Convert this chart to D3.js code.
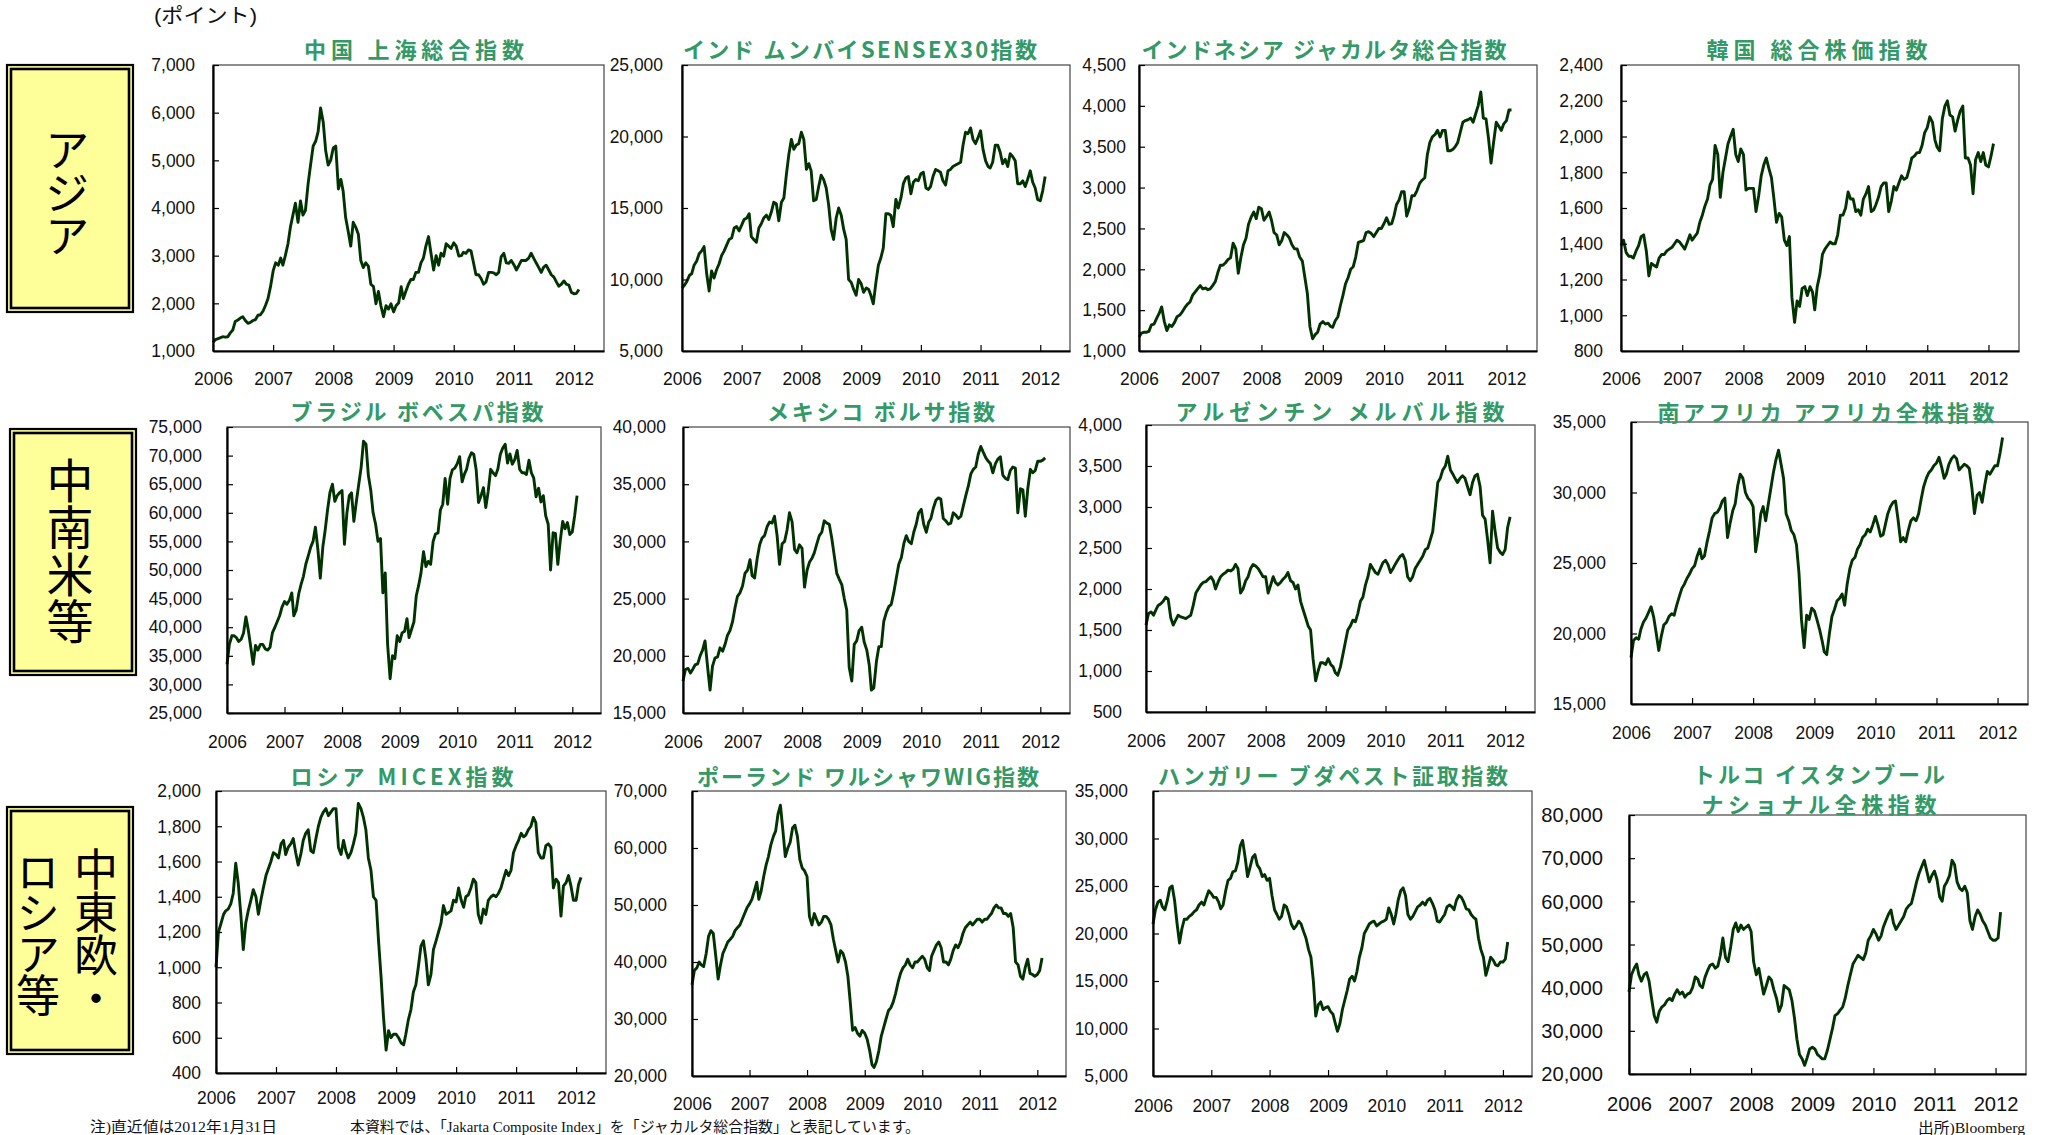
<!DOCTYPE html>
<html lang="ja">
<head>
<meta charset="utf-8">
<script src="https://cdn.jsdelivr.net/npm/d3@7"></script>
<style>
  html, body { margin: 0; padding: 0; background: #fff; }
  svg { display: block; }
</style>
</head>
<body>
<svg id="chart" width="2045" height="1135"></svg>
<script>
// Emerging-market equity indices, semi-monthly closes (1st and 16th of each month),
// Jan 2006 – Jan 31 2012. Each year row holds 24 values; 2012 holds Jan 1, Jan 16, Jan 31.
const yearLabels = ["2006", "2007", "2008", "2009", "2010", "2011", "2012"];

const shanghai = [
  1180,1240,1260,1280,1300,1290,1300,1380,1440,1620,1650,1690,1720,1640,1580,1600,1640,1660,1750,1760,1840,1960,2100,2350,
  2680,2850,2800,2950,2800,3000,3250,3600,3850,4100,3700,4150,3850,3950,4500,4900,5300,5400,5600,6100,5800,5200,4900,5000,
  5260,5300,4400,4600,4350,3800,3500,3200,3700,3600,3450,2900,2750,2850,2780,2400,2350,1990,2250,1950,1720,1950,1880,1990,
  1820,1950,2010,2350,2100,2250,2400,2500,2500,2650,2650,2850,2950,3200,3400,3050,2700,3000,2800,3050,2990,3250,3200,3150,
  3270,3200,2990,3000,3070,3050,3120,3100,2850,2600,2600,2520,2400,2450,2650,2650,2640,2600,2650,2980,3050,2850,2840,2900,
  2810,2700,2800,2900,2900,2900,2950,3050,2950,2850,2750,2650,2760,2800,2700,2600,2550,2450,2360,2400,2470,2400,2380,2230,
  2200,2210,2290
];
const sensex = [
  9400,9600,9900,10300,10400,11000,11300,11800,12000,12300,10400,9200,10600,10100,10700,11100,11700,12000,12400,12800,12900,13600,13700,13400,
  13800,14200,14300,14600,13000,12800,12600,13600,13900,14300,14500,14200,14700,15400,15300,14100,15400,15700,17300,18700,19800,19100,19400,19500,
  20300,19800,17700,18100,17600,15500,15600,16500,17300,17000,16400,15200,13500,12800,14300,15000,14500,13500,12800,10000,9800,9300,8900,10000,
  9700,9100,9400,9300,8900,8300,9800,11000,11500,12200,14600,14600,14500,13700,15600,15000,15700,16700,17100,17200,16000,16800,17000,16900,
  17400,17500,16400,16300,16500,17200,17700,17600,17500,16900,16600,17600,17700,17900,18000,18100,18200,19400,20300,20200,20600,19800,19500,19900,
  20400,19100,18300,17900,17800,18200,19400,19400,18900,18100,18400,17900,18800,18600,18300,16700,16700,16900,16500,17000,17600,16800,16400,15600,
  15500,16200,17200
];
const jakarta = [
  1170,1220,1230,1230,1240,1320,1330,1400,1460,1540,1360,1250,1320,1300,1350,1420,1440,1480,1530,1570,1600,1680,1720,1760,
  1800,1760,1770,1750,1760,1800,1850,1960,2050,2050,2080,2120,2140,2320,2250,1950,2150,2300,2380,2550,2640,2700,2620,2760,
  2740,2600,2650,2700,2600,2450,2420,2300,2350,2450,2420,2380,2300,2250,2250,2150,2100,1900,1700,1300,1150,1200,1230,1330,
  1360,1330,1340,1300,1290,1370,1420,1560,1680,1820,1900,2000,2030,2150,2330,2340,2350,2450,2460,2440,2400,2450,2500,2500,
  2560,2630,2550,2560,2650,2790,2850,2950,2950,2650,2750,2900,2900,2960,3050,3090,3120,3400,3550,3620,3650,3700,3620,3700,
  3700,3450,3450,3470,3500,3550,3680,3800,3820,3830,3850,3800,3900,4000,4170,3850,3840,3600,3300,3550,3800,3750,3700,3780,
  3820,3950,3950
];
const kospi = [
  1390,1420,1350,1330,1330,1320,1360,1390,1440,1450,1360,1220,1290,1280,1270,1320,1340,1340,1360,1370,1380,1400,1420,1410,
  1390,1370,1410,1450,1420,1440,1460,1520,1560,1610,1650,1730,1760,1950,1900,1660,1800,1880,1960,2000,2040,1900,1860,1930,
  1900,1700,1710,1710,1710,1580,1670,1780,1840,1880,1820,1770,1650,1520,1570,1550,1420,1390,1440,1100,960,1080,1050,1150,
  1160,1110,1160,1130,1030,1160,1230,1340,1370,1390,1410,1400,1400,1450,1560,1560,1600,1690,1650,1650,1580,1590,1560,1650,
  1680,1720,1580,1590,1620,1660,1720,1740,1740,1580,1640,1720,1700,1740,1780,1760,1770,1820,1880,1890,1910,1910,1950,2020,
  2050,2110,2080,1980,1940,1920,2100,2170,2200,2120,2110,2030,2090,2140,2170,1880,1880,1840,1680,1870,1910,1860,1910,1840,
  1830,1890,1960
];
const bovespa = [
  33500,37000,38500,38500,38200,37500,37900,39000,41800,39500,36500,33500,36800,36000,37000,37000,36200,36000,36500,39000,40000,41000,42000,43500,
  44500,44000,44700,46000,42000,43000,45800,47500,48900,51000,52500,54000,55000,57500,53500,48600,54000,57000,60500,63500,65000,62000,63000,63500,
  63900,54500,60000,63000,63500,58500,62000,65000,67900,72500,72000,66500,64000,60000,58000,55000,55500,46000,49500,37000,31000,35000,34500,38500,
  37500,39000,39300,41500,38200,39500,40900,45500,47300,49500,53200,50600,51500,51000,55000,56300,56500,60500,61500,66000,61500,66000,67500,67800,
  68600,69800,65400,66800,67600,69500,70500,70200,67500,61800,63000,64400,60900,63700,67600,67000,66500,67700,70200,71300,72000,68700,70300,68500,
  69300,70900,67600,67000,67000,66700,69200,67000,66100,62800,64300,61900,63000,59500,58000,50000,56500,56400,51000,55000,58500,57200,58300,56200,
  56700,59500,63000
];
const bolsa = [
  17800,18800,18900,18500,18800,19200,19300,20000,20500,21300,19000,17000,19100,19800,19900,20700,20400,21000,21800,22200,23000,24200,25200,25500,
  26100,27200,27500,28400,27000,26800,28500,29700,30300,30500,31300,31700,31600,32200,30500,28000,29800,30000,31000,32500,31700,29300,29000,29700,
  29400,26000,27500,28200,28500,29000,29800,30500,30800,31800,31600,31500,30300,28800,27200,26700,26200,25000,24000,19000,17800,21000,21300,22200,
  22500,21200,20500,19200,17000,17200,19500,20800,20800,23000,23800,24300,24500,25500,26800,28000,28600,29800,30500,30000,29800,30800,31500,32500,
  32800,31500,30800,31700,32000,32900,33600,33800,33700,32000,31800,31500,31600,32500,32300,32000,32200,33100,34000,34800,35900,36300,36500,37600,
  38300,37800,37300,37000,36800,36000,36800,37200,37400,35800,35500,35400,36200,36500,36400,32500,34600,34500,32200,34600,36300,36000,36200,37000,
  37000,37100,37300
];
const merval = [
  1560,1700,1720,1680,1740,1800,1820,1850,1900,1880,1650,1560,1620,1680,1660,1650,1640,1660,1680,1800,1950,2000,2050,2080,
  2090,2120,2150,2100,2000,2080,2150,2180,2200,2230,2220,2240,2300,2250,1950,2000,2100,2150,2250,2300,2280,2250,2200,2150,
  2150,1950,2050,2150,2080,2050,2080,2120,2150,2200,2100,2080,2000,2050,1850,1750,1650,1550,1500,1150,880,1000,1100,1100,
  1080,1150,1080,1050,980,950,1050,1200,1350,1500,1550,1620,1600,1700,1850,1900,2050,2150,2300,2250,2200,2180,2250,2320,
  2350,2300,2200,2250,2300,2350,2400,2420,2350,2150,2100,2150,2250,2300,2350,2400,2480,2500,2600,2700,3000,3300,3350,3450,
  3500,3620,3450,3400,3350,3300,3350,3380,3350,3250,3150,3300,3380,3400,3250,2900,2850,2600,2320,2950,2700,2500,2450,2420,
  2480,2750,2880
];
const jseAllShare = [
  18300,19500,19700,19600,20300,20800,21100,21500,21900,21200,20000,18800,19800,20600,20800,21200,21400,21300,22000,22600,23200,23500,23900,24200,
  24600,24800,25500,26000,25300,25500,26500,27300,28200,28500,28600,28900,29400,29600,26800,27800,28700,29200,30500,31300,31000,30000,29600,29400,
  29000,25800,27000,28500,29000,28000,29200,30300,31400,32300,33000,32000,31000,28500,28000,27300,27000,26300,24300,21000,19000,21300,21000,21800,
  21600,21000,20300,19500,18700,18500,20000,21200,21700,22300,22500,22800,22000,23500,24600,25200,25400,26000,26300,26800,27000,27400,27200,27700,
  28300,27700,26900,27000,27700,28500,29000,29300,29400,28100,26500,26800,26500,27300,28000,28200,28000,28500,29500,30400,31000,31400,31600,31900,
  32100,32500,31800,31000,31300,32000,32400,32600,32400,31600,31800,32000,31900,31700,30300,28500,29800,30000,29300,30500,31500,31300,31600,31900,
  31900,32800,33900
];
const micex = [
  1000,1200,1250,1300,1320,1330,1360,1420,1590,1480,1300,1100,1250,1320,1380,1440,1400,1300,1380,1450,1520,1560,1600,1650,
  1640,1620,1700,1720,1640,1680,1700,1730,1650,1580,1640,1720,1760,1780,1660,1650,1730,1800,1850,1880,1900,1860,1880,1900,
  1900,1680,1640,1720,1660,1620,1650,1700,1760,1930,1900,1850,1780,1620,1550,1400,1380,1150,950,720,530,640,600,620,
  620,600,570,560,620,700,760,860,900,1000,1120,1150,1050,900,960,1100,1150,1200,1250,1350,1300,1310,1320,1380,
  1370,1450,1380,1340,1400,1410,1450,1500,1480,1300,1250,1330,1300,1380,1400,1410,1400,1420,1450,1500,1550,1520,1550,1650,
  1690,1720,1760,1740,1750,1780,1800,1850,1820,1650,1620,1620,1690,1700,1680,1450,1500,1480,1290,1460,1480,1520,1460,1380,
  1380,1470,1510
];
const wig = [
  36000,38500,39000,40000,39500,39200,41500,44500,45500,45000,41000,37000,39500,41500,42500,43500,44000,44500,45500,46000,46500,47500,48500,49500,
  50200,51000,52500,54000,51000,52500,55000,57000,58500,60500,62000,63000,66000,67500,63000,58500,60000,61000,63500,64000,62000,58000,56500,56000,
  55000,48000,46500,48500,47500,46500,47000,48000,48000,47500,46500,44000,42000,40000,42000,41500,40000,37500,33000,28000,28500,27500,27000,28000,
  27500,26500,24500,22000,21500,22500,24500,27000,28500,30000,31500,32000,33000,34500,36500,38000,39000,39500,40500,39500,39000,40000,40000,40500,
  41000,40500,39000,38500,41000,42000,43000,43500,42500,40000,40000,39500,40500,42000,43000,42500,43500,45000,46000,46500,47000,46500,47000,47500,
  47500,47000,47500,47500,48000,48500,49500,50000,49500,49500,48500,48500,48000,48500,46000,40000,39500,37500,37000,39000,40500,38000,37800,37500,
  37800,38500,40700
];
const bux = [
  21000,22500,23300,23500,22800,22500,23500,24800,25000,23500,21000,19000,20500,21500,21500,21800,22000,22300,22500,23000,23300,23000,23800,24500,
  24200,23800,23800,23300,22600,23000,24500,25600,25800,26500,26600,27500,29200,29800,28000,26000,27000,28000,28300,27200,26800,26000,26200,25600,
  25800,24000,22500,22000,21500,21800,23000,22800,22000,21000,20500,20800,21300,21000,20200,19500,18300,17500,15000,11300,12500,12800,12000,12200,
  12300,11800,11500,10500,9700,10500,12000,13000,14000,15200,15500,15000,16000,17500,18500,20000,20500,21000,21200,21300,20800,21000,21200,21300,
  21500,22700,22000,21000,22000,23500,24500,24800,24000,22000,21500,21800,22300,22800,23000,23300,23000,23500,23700,23200,22500,21300,21200,21600,
  22000,22800,23000,22800,22500,23500,24000,23800,23300,22600,22500,22000,21700,21500,19500,18300,17500,15600,16500,17500,17200,16700,16600,17000,
  17000,17300,19100
];
const ise = [
  39000,43000,44500,45500,43000,41500,43000,43500,41500,37500,33500,32000,34500,35500,36000,37000,37500,37000,38500,39500,38500,39000,37800,38500,
  38800,40000,42500,42000,40500,40000,42500,44000,45200,45500,44500,45000,47500,51500,47000,46000,49500,53500,55000,53000,54500,53500,54000,54500,
  53000,46000,43000,44500,41500,38500,40500,42500,41800,39500,37500,34500,36000,40500,40000,39500,37000,33000,28000,24500,23500,22000,23800,25800,
  26200,25800,24500,24000,23500,23500,25500,28000,30500,33500,34000,34800,35500,37500,40500,43000,45500,46500,47500,47000,46500,48000,51000,52000,
  53500,52500,51000,52000,54000,55500,57000,58000,55000,53500,54500,55500,56500,58200,59000,59500,62000,64500,66500,68000,69500,67000,64500,66000,
  67000,65000,61000,60000,63500,64500,66000,69500,68500,64500,63000,62500,63500,62000,55500,53500,56500,58000,57000,55500,54500,53000,51500,51000,
  51000,51500,57500
];

// Panel titles, series and value-axis ranges
const titles = [
  ["中国 上海総合指数"], ["インド ムンバイSENSEX30指数"], ["インドネシア ジャカルタ総合指数"], ["韓国 総合株価指数"],
  ["ブラジル ボベスパ指数"], ["メキシコ ボルサ指数"], ["アルゼンチン メルバル指数"], ["南アフリカ アフリカ全株指数"],
  ["ロシア MICEX指数"], ["ポーランド ワルシャワWIG指数"], ["ハンガリー ブダペスト証取指数"], ["トルコ イスタンブール", "ナショナル全株指数"]
];
const seriesList = [shanghai, sensex, jakarta, kospi, bovespa, bolsa, merval, jseAllShare, micex, wig, bux, ise];
const yRanges = [
  [1000, 7000, 1000], [5000, 25000, 5000], [1000, 4500, 500], [800, 2400, 200],
  [25000, 75000, 5000], [15000, 40000, 5000], [500, 4000, 500], [15000, 35000, 5000],
  [400, 2000, 200], [20000, 70000, 10000], [5000, 35000, 5000], [20000, 80000, 10000]
];
const regionNames = ["アジア", "中南米等", "中東欧・", "ロシア等"];
const unitLabel = "(ポイント)";
const noteText = "注)直近値は2012年1月31日";
const jakartaNote = "本資料では、「Jakarta Composite Index」を「ジャカルタ総合指数」と表記しています。";
const sourceText = "出所)Bloomberg";

// ---- layout ----
// plot frames: left, top, right, bottom; label font size, horizontal squeeze, label gap, x-label padding
const frames = [
  {l: 213, t: 65, r: 604, b: 351, fs: 18, sx: 0.97, gap: 18, xpad: 21},
  {l: 682, t: 65, r: 1070, b: 351, fs: 18, sx: 0.97, gap: 19, xpad: 21},
  {l: 1139, t: 65, r: 1537, b: 351, fs: 18, sx: 0.97, gap: 13, xpad: 21},
  {l: 1621, t: 65, r: 2019, b: 351, fs: 18, sx: 0.97, gap: 18, xpad: 21},
  {l: 227, t: 427, r: 601, b: 713, fs: 18, sx: 0.97, gap: 25, xpad: 22},
  {l: 683, t: 427, r: 1070, b: 713, fs: 18, sx: 0.97, gap: 17, xpad: 22},
  {l: 1146, t: 425, r: 1535, b: 712, fs: 18, sx: 0.97, gap: 24, xpad: 22},
  {l: 1631, t: 422, r: 2028, b: 704, fs: 18, sx: 0.97, gap: 25, xpad: 22},
  {l: 216, t: 791, r: 606, b: 1073, fs: 18, sx: 0.97, gap: 15, xpad: 18},
  {l: 692, t: 791, r: 1066, b: 1076, fs: 18, sx: 0.97, gap: 25, xpad: 21},
  {l: 1153, t: 791, r: 1532, b: 1076, fs: 18, sx: 0.97, gap: 25, xpad: 23},
  {l: 1629, t: 815, r: 2026, b: 1074, fs: 21, sx: 0.96, gap: 26, xpad: 22}
];
// title placement: centre x, centre y of each line, set width of each line
const titlePos = [
  {cx: 414, cy: [48], w: [220]}, {cx: 860, cy: [48], w: [354]}, {cx: 1324, cy: [48], w: [365]}, {cx: 1817, cy: [48], w: [221]},
  {cx: 417, cy: [410], w: [253]}, {cx: 881, cy: [410], w: [228]}, {cx: 1340, cy: [410], w: [329]}, {cx: 1826, cy: [411], w: [337]},
  {cx: 402, cy: [775], w: [223]}, {cx: 868, cy: [775], w: [342]}, {cx: 1333, cy: [774], w: [350]}, {cx: 1819, cy: [773, 803], w: [252, 235]}
];
const regionBoxes = [
  {x: 6, y: 64, w: 128, h: 249},
  {x: 9, y: 428, w: 128, h: 248},
  {x: 6, y: 806, w: 128, h: 249}
];
// vertical labels: column centre x, column centre y, font size, letter spacing
const regionText = [
  {cx: 67, cy: 192, fs: 45, ls: -2},
  {cx: 70, cy: 551, fs: 47, ls: 0},
  {cx: 96, cy: 933, fs: 44, ls: -1},
  {cx: 38, cy: 932, fs: 44, ls: -3}
];

const SANS = "'Liberation Sans', Arial, 'Noto Sans CJK JP', sans-serif";
const CJK = "'Noto Sans CJK JP', 'Noto Sans CJK SC', sans-serif";
const SERIF_MIX = "'Liberation Serif', 'Times New Roman', 'Noto Sans CJK JP', serif";

// semi-monthly observation dates matching the series arrays
const obsDates = [];
for (let yr = 2006; yr <= 2011; yr++) {
  for (let m = 0; m < 12; m++) obsDates.push(new Date(yr, m, 1), new Date(yr, m, 16));
}
obsDates.push(new Date(2012, 0, 1), new Date(2012, 0, 16), new Date(2012, 0, 31));
const yearDates = yearLabels.map(s => new Date(+s, 0, 1));

const svg = d3.select("#chart");
svg.append("rect").attr("width", 2045).attr("height", 1135).attr("fill", "#fff");

const fmt = d3.format(",");
const xStart = new Date(2006, 0, 1), xEnd = new Date(2012, 6, 1);

seriesList.forEach((values, i) => {
  const f = frames[i];
  const [y0, y1, step] = yRanges[i];
  const x = d3.scaleTime().domain([xStart, xEnd]).range([f.l, f.r]);
  const y = d3.scaleLinear().domain([y0, y1]).range([f.b, f.t]);
  const g = svg.append("g").attr("class", "panel");

  // plot frame (thin top/right edges)
  g.append("rect")
    .attr("x", f.l).attr("y", f.t).attr("width", f.r - f.l).attr("height", f.b - f.t)
    .attr("fill", "#fff").attr("stroke", "#444").attr("stroke-width", 1.2);

  // index line
  const pts = obsDates.map((d, k) => ({d, v: values[k]}));
  g.append("path").datum(pts)
    .attr("fill", "none").attr("stroke", "#003300").attr("stroke-width", 2.9)
    .attr("stroke-linejoin", "round")
    .attr("d", d3.line().x(p => x(p.d)).y(p => y(p.v)));

  // value axis
  const yTicks = d3.range(y0, y1 + step / 2, step);
  const ay = g.append("g").attr("transform", `translate(${f.l},0)`)
    .call(d3.axisLeft(y).tickValues(yTicks).tickFormat(fmt).tickSize(-6).tickSizeOuter(0).tickPadding(0));
  ay.attr("font-size", f.fs).attr("font-family", SANS);
  ay.select(".domain").attr("stroke", "#000").attr("stroke-width", 2.2);
  ay.selectAll(".tick line").attr("stroke", "#000").attr("stroke-width", 1.2);
  ay.selectAll(".tick text").attr("x", 0).attr("fill", "#111")
    .attr("transform", `translate(${-f.gap},0) scale(${f.sx},1)`);

  // year axis
  const ax = g.append("g").attr("transform", `translate(0,${f.b})`)
    .call(d3.axisBottom(x).tickValues(yearDates).tickFormat((d, k) => yearLabels[k])
      .tickSize(-6).tickSizeOuter(0).tickPadding(f.xpad));
  ax.attr("font-size", f.fs).attr("font-family", SANS);
  ax.select(".domain").attr("stroke", "#000").attr("stroke-width", 2.2);
  ax.selectAll(".tick line").attr("stroke", "#000").attr("stroke-width", 1.2);
  ax.selectAll(".tick text").attr("fill", "#111").attr("transform", `scale(${f.sx},1)`);

  // title
  const tp = titlePos[i];
  titles[i].forEach((line, j) => {
    g.append("text")
      .attr("x", tp.cx - tp.w[j] / 2).attr("y", tp.cy[j])
      .attr("dominant-baseline", "central")
      .attr("textLength", tp.w[j]).attr("lengthAdjust", "spacing")
      .attr("font-family", CJK).attr("font-weight", 700).attr("font-size", 22)
      .attr("fill", "#339966")
      .text(line);
  });
});

// region boxes with double border
regionBoxes.forEach(b => {
  svg.append("rect").attr("x", b.x + 1).attr("y", b.y + 1).attr("width", b.w - 2).attr("height", b.h - 2)
    .attr("fill", "#ffff99").attr("stroke", "#000").attr("stroke-width", 2.2);
  svg.append("rect").attr("x", b.x + 5).attr("y", b.y + 5).attr("width", b.w - 10).attr("height", b.h - 10)
    .attr("fill", "#ffff99").attr("stroke", "#000").attr("stroke-width", 2.6);
});
// region names, set vertically (one column each; the third box holds two columns)
regionNames.forEach((name, i) => {
  const rt = regionText[i];
  svg.append("text")
    .attr("x", rt.cx).attr("y", rt.cy)
    .attr("writing-mode", "tb")
    .style("writing-mode", "vertical-rl")
    .attr("text-anchor", "middle")
    .attr("letter-spacing", rt.ls)
    .attr("font-family", CJK).attr("font-weight", 400).attr("font-size", rt.fs)
    .attr("fill", "#000")
    .text(name);
});

// unit label and footnotes
svg.append("text").attr("x", 154).attr("y", 23).attr("textLength", 103).attr("lengthAdjust", "spacingAndGlyphs")
  .attr("font-family", SANS).attr("font-size", 20).attr("fill", "#111").text(unitLabel);
svg.append("text").attr("x", 90).attr("y", 1132).attr("textLength", 187).attr("lengthAdjust", "spacingAndGlyphs")
  .attr("font-family", SERIF_MIX).attr("font-size", 15).attr("fill", "#111").text(noteText);
svg.append("text").attr("x", 350).attr("y", 1132).attr("textLength", 570).attr("lengthAdjust", "spacingAndGlyphs")
  .attr("font-family", SERIF_MIX).attr("font-size", 15).attr("fill", "#111").text(jakartaNote);
svg.append("text").attr("x", 1918).attr("y", 1133).attr("textLength", 107).attr("lengthAdjust", "spacingAndGlyphs")
  .attr("font-family", SERIF_MIX).attr("font-size", 15).attr("fill", "#111").text(sourceText);
</script>
</body>
</html>
